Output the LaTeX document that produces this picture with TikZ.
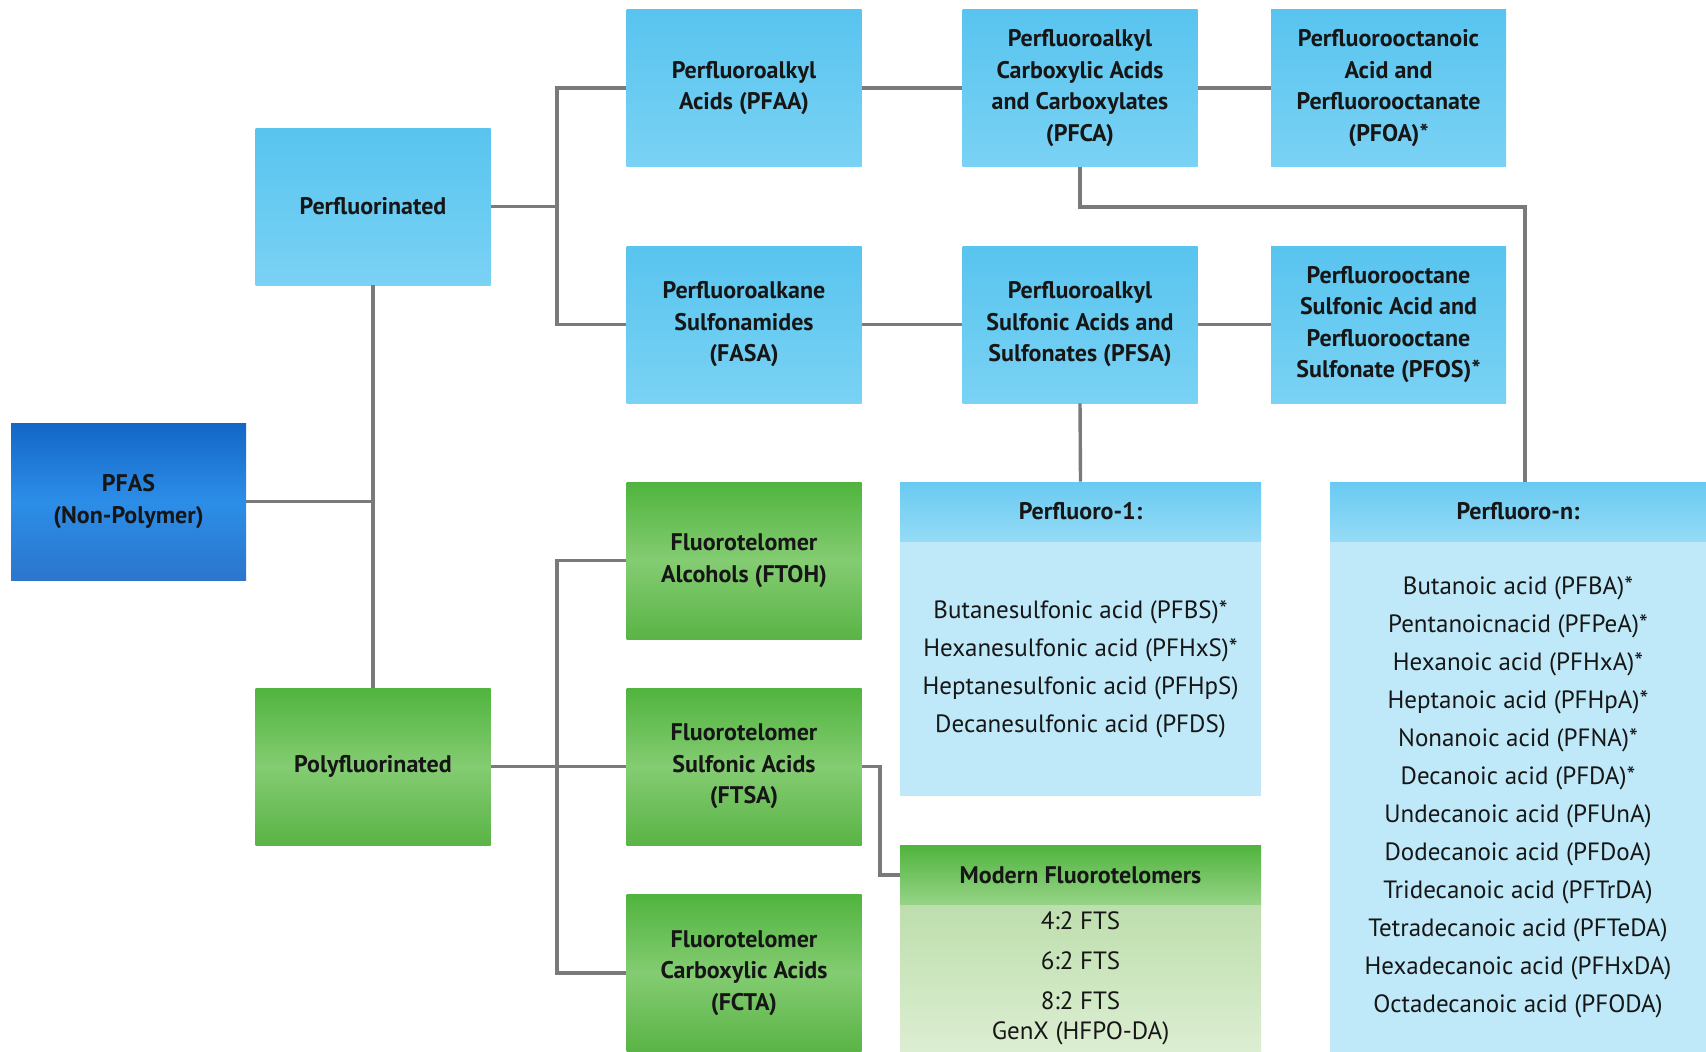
\documentclass[tikz,border=0pt]{standalone}
\usepackage{fontspec}
\setmainfont{PT Sans}
\usepackage{xcolor}
\usepackage{tikz}
\usetikzlibrary{positioning}
\definecolor{linkgray}{HTML}{7A7A7A}
\definecolor{txtdark}{HTML}{161616}
\definecolor{skytop}{HTML}{58C4EF}
\definecolor{skybot}{HTML}{7AD2F4}
\definecolor{deeptop}{HTML}{1466C6}
\definecolor{deepmid}{HTML}{2C8EE8}
\definecolor{leaftop}{HTML}{50B43E}
\definecolor{leafmid}{HTML}{84CC72}
\definecolor{leafbot}{HTML}{5AB446}
\definecolor{panelfill}{HTML}{BFE9F8}
\definecolor{greentop}{HTML}{BEDEAD}
\definecolor{greenbot}{HTML}{DCEED2}

\begin{document}
\begin{tikzpicture}[
  x=0.5pt,y=-0.5pt,
  box/.style={rectangle,align=center,minimum width=117.5pt,minimum height=78.5pt,inner sep=2pt,
    font=\fontsize{12}{15.75}\selectfont\bfseries,text=txtdark,top color=skytop,bottom color=skybot},
  root/.style={box,top color=deeptop,bottom color=deeptop!90!white,middle color=deepmid},
  poly/.style={box,top color=leaftop,bottom color=leafbot,middle color=leafmid},
  head/.style={rectangle,minimum height=29.5pt,inner sep=0pt,font=\fontsize{12}{14}\selectfont\bfseries,
    text=txtdark,top color=skytop!90!white,bottom color=skybot!80!white},
  greenhead/.style={head,top color=leaftop,bottom color=leafmid!85!white},
  panel/.style={rectangle,align=center,inner sep=0pt,fill=panelfill,text=txtdark,
    font=\fontsize{12.5}{19}\selectfont},
  greenpanel/.style={panel,top color=greentop,bottom color=greenbot},
  link/.style={draw=linkgray,line width=1.7pt}
]
\useasboundingbox (0,0) rectangle (1706,1051);

% main boxes
\node[root] (pfas) at (128.5,501.5) {PFAS\\(Non-Polymer)};
\node[box] (perf) at (373,206.5) {Perfluorinated};
\node[poly] (poly) at (373,766.5) {Polyfluorinated};

\node[box] (pfaa) at (744,88) {Perfluoroalkyl\\Acids (PFAA)};
\node[box] (fasa) at (744,324.5) {Perfluoroalkane\\Sulfonamides\\(FASA)};
\node[box] (pfca) at (1080,88) {Perfluoroalkyl\\Carboxylic Acids\\and Carboxylates\\(PFCA)};
\node[box] (pfsa) at (1080,324.5) {Perfluoroalkyl\\Sulfonic Acids and\\Sulfonates (PFSA)};
\node[box] (pfoa) at (1388.5,88) {Perfluorooctanoic\\Acid and\\Perfluorooctanate\\(PFOA)*};
\node[box] (pfos) at (1388.5,324.5) {Perfluorooctane\\Sulfonic Acid and\\Perfluorooctane\\Sulfonate (PFOS)*};

\node[poly] (ftoh) at (744,560.5) {Fluorotelomer\\Alcohols (FTOH)};
\node[poly] (ftsa) at (744,766.5) {Fluorotelomer\\Sulfonic Acids\\(FTSA)};
\node[poly] (fcta) at (744,973) {Fluorotelomer\\Carboxylic Acids\\(FCTA)};

% list panels
\node[head,minimum width=180.5pt] (p1head) at (1080.5,511.5) {Perfluoro-1:};
\node[panel,minimum width=180.5pt,minimum height=127pt,below=0pt of p1head] (p1body)
  {Butanesulfonic acid (PFBS)*\\Hexanesulfonic acid (PFHxS)*\\Heptanesulfonic acid (PFHpS)\\Decanesulfonic acid (PFDS)};

\node[greenhead,minimum width=180.5pt] (modhead) at (1080.5,875) {Modern Fluorotelomers};
\node[greenpanel,minimum width=180.5pt,minimum height=73.5pt,below=0pt of modhead,
  font=\fontsize{12.5}{15}\selectfont] (modbody)
  {4:2 FTS\\[5pt]6:2 FTS\\[5pt]8:2 FTS\\GenX (HFPO-DA)};

\node[head,minimum width=188pt] (pnhead) at (1518,511.5) {Perfluoro-n:};
\node[panel,minimum width=188pt,minimum height=255pt,below=0pt of pnhead] (pnbody)
  {Butanoic acid (PFBA)*\\Pentanoicnacid (PFPeA)*\\Hexanoic acid (PFHxA)*\\Heptanoic acid (PFHpA)*\\
   Nonanoic acid (PFNA)*\\Decanoic acid (PFDA)*\\Undecanoic acid (PFUnA)\\Dodecanoic acid (PFDoA)\\
   Tridecanoic acid (PFTrDA)\\Tetradecanoic acid (PFTeDA)\\Hexadecanoic acid (PFHxDA)\\Octadecanoic acid (PFODA)};

% connectors
\coordinate (spine) at (557,0);
\draw[link] (pfas.east) -- (pfas.east -| perf.south);
\draw[link] (perf.south) -- (poly.north);
\draw[link] (perf.east) -- (perf.east -| spine);
\draw[link] (pfaa.west) -- (pfaa.west -| spine) -- (fasa.west -| spine) -- (fasa.west);
\draw[link] (pfaa) -- (pfca);
\draw[link] (pfca) -- (pfoa);
\draw[link] (fasa) -- (pfsa);
\draw[link] (pfsa) -- (pfos);
\draw[link] (pfca.south) -- ++(0,40) -| ([xshift=3.5pt]pnhead.north);
\draw[link] (pfsa.south) -- (p1head.north);
\draw[link] (poly.east) -- (poly.east -| spine);
\draw[link] (ftoh.west) -- (ftoh.west -| spine) -- (fcta.west -| spine) -- (fcta.west);
\draw[link] (ftsa.west) -- (ftsa.west -| spine);
\draw[link] (ftsa.east) -- ++(18,0) |- (modhead.west);
\end{tikzpicture}
\end{document}
